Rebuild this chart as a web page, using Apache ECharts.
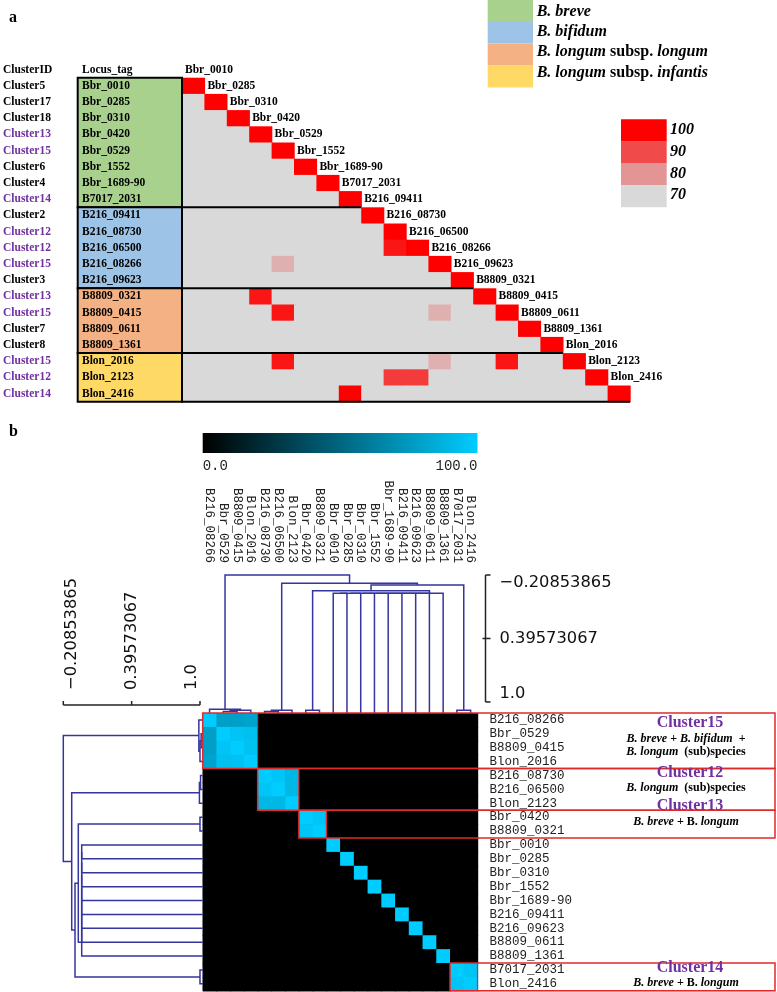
<!DOCTYPE html>
<html><head><meta charset="utf-8">
<script src="https://cdn.jsdelivr.net/npm/echarts@6/dist/echarts.min.js"></script>
<style>html,body{margin:0;padding:0;background:#fff}#c{width:777px;height:992px}</style>
</head><body><div id="c"></div>
<script>
// ================= DATA =================
// ---- Panel a : pairwise identity (lower triangle) ----
const locusTags = ['Bbr_0010','Bbr_0285','Bbr_0310','Bbr_0420','Bbr_0529','Bbr_1552','Bbr_1689-90','B7017_2031','B216_09411','B216_08730','B216_06500','B216_08266','B216_09623','B8809_0321','B8809_0415','B8809_0611','B8809_1361','Blon_2016','Blon_2123','Blon_2416'];
const clusterIds = ['Cluster5','Cluster17','Cluster18','Cluster13','Cluster15','Cluster6','Cluster4','Cluster14','Cluster2','Cluster12','Cluster12','Cluster15','Cluster3','Cluster13','Cluster15','Cluster7','Cluster8','Cluster15','Cluster12','Cluster14'];
const sharedClusters = ['Cluster12','Cluster13','Cluster14','Cluster15'];
const speciesNames = ['B. breve','B. bifidum','B. longum subsp. longum','B. longum subsp. infantis'];
const speciesRowCounts = [8,5,4,3];
const identityDiagonal = 100;
const identityBelowCutoff = 70;
// [row, col, % identity] for off-diagonal pairs above the cutoff
const identityHits = [[10,9,97],[11,4,76],[13,3,97],[14,4,97],[14,11,76],[17,4,97],[17,11,76],[17,14,97],[18,9,92],[18,10,92],[19,7,100]];
const identityTicks = [70,80,90,100];

// ---- Panel b : clustered similarity heatmap ----
const hmOrder = ['B216_08266','Bbr_0529','B8809_0415','Blon_2016','B216_08730','B216_06500','Blon_2123','Bbr_0420','B8809_0321','Bbr_0010','Bbr_0285','Bbr_0310','Bbr_1552','Bbr_1689-90','B216_09411','B216_09623','B8809_0611','B8809_1361','B7017_2031','Blon_2416'];
const hmDiagonal = 100;
const hmRange = [0, 100];
// [row, col, value] for non-zero off-diagonal cells
const hmCells = [[0,1,78],[0,2,78],[0,3,80],[1,0,78],[2,0,78],[3,0,80],
  [1,2,96],[1,3,94],[2,1,96],[2,3,95],[3,1,94],[3,2,95],
  [4,5,97],[5,4,97],[4,6,90],[5,6,90],[6,4,90],[6,5,90],
  [7,8,96],[8,7,96],[18,19,96],[19,18,96]];
const treeTicks = [-0.20853865, 0.39573067, 1.0];
const treeTickLabels = ['\u22120.20853865','0.39573067','1.0'];
// merges: [childA, childB, level]; leaves are 0..19, merged nodes get ids 20, 21, ...
const colTreeLeafLevel = 1.105;
const colTreeMerges = [[1,2,1.09],[20,3,1.08],[21,0,1.07],[4,5,1.09],[23,6,1.08],[7,8,1.08],[18,19,1.08],
  [9,10,-0.0344],[27,11,-0.0344],[28,12,-0.0344],[29,13,-0.0344],[30,14,-0.0344],[31,15,-0.0344],[32,16,-0.0344],[33,17,-0.0344],
  [25,34,-0.059],[35,26,-0.1134],[24,36,-0.1295],[22,37,-0.20853865]];
const rowTreeLeafLevel = 1.024;
const rowTreeMerges = [[1,2,1.01],[20,3,1.0],[21,0,0.99],[4,5,1.005],[23,6,0.995],[7,8,1.0],[18,19,1.0],
  [9,10,-0.0458],[27,11,-0.0458],[28,12,-0.0458],[29,13,-0.0458],[30,14,-0.0458],[31,15,-0.0458],[32,16,-0.0458],[33,17,-0.0458],
  [25,34,-0.0759],[35,26,-0.105],[24,36,-0.1342],[22,37,-0.20853865]];
const clusterBoxes = [
  {name:'Cluster15', first:0, last:3, note:'{i|B. breve} + {i|B. bifidum}  +\n{i|B. longum}  (sub)species'},
  {name:'Cluster12', first:4, last:6, note:'{i|B. longum}  (sub)species'},
  {name:'Cluster13', first:7, last:8, note:'{i|B. breve} + B. {i|longum}'},
  {name:'Cluster14', first:18, last:19, note:'{i|B. breve} + B. {i|longum}'}
];

// ================= STYLE =================
const serif = '"Liberation Serif", "Times New Roman", serif';
const mono = '"Liberation Mono", "Courier New", monospace';
const sans = '"DejaVu Sans", Verdana, sans-serif';
const purple = '#7030a0';
const speciesColors = ['#a9d18e','#9dc3e6','#f4b183','#ffd966'];
const identityColors = ['#d9d9d9','#e39595','#f04a4a','#ff0000'];
const hmColors = ['#000000','#00ccff'];
const treeColor = '#35359e';
const boxColor = '#e02a2a';

// ================= BUILD =================
const nA = locusTags.length, nB = hmOrder.length;
const hitMap = {};
identityHits.forEach(([r,c,v]) => { hitMap[r+'_'+c] = v; });
const triData = [];
for (let r = 0; r < nA; r++) for (let c = 0; c <= r; c++) {
  const v = r === c ? identityDiagonal : (hitMap[r+'_'+c] !== undefined ? hitMap[r+'_'+c] : identityBelowCutoff);
  triData.push([c, r, v]);
}
const groupStarts = [];
speciesRowCounts.reduce((acc, n) => { groupStarts.push(acc); return acc + n; }, 0);
const bounds = groupStarts.slice(1).concat([nA]);

const hmMap = {};
hmCells.forEach(([r,c,v]) => { hmMap[r+'_'+c] = v; });
const hmData = [];
for (let r = 0; r < nB; r++) for (let c = 0; c < nB; c++) {
  const v = r === c ? hmDiagonal : (hmMap[r+'_'+c] !== undefined ? hmMap[r+'_'+c] : hmRange[0]);
  hmData.push([c, r, v]);
}

function treeSegments(merges, leafLevel, n) {
  const pos = [], lev = [];
  for (let i = 0; i < n; i++) { pos.push(i); lev.push(leafLevel); }
  return merges.map(([a, b, h]) => {
    const seg = {pa: pos[a], la: lev[a], pb: pos[b], lb: lev[b], h: h};
    pos.push((pos[a] + pos[b]) / 2); lev.push(h);
    return seg;
  });
}
const colTree = treeSegments(colTreeMerges, colTreeLeafLevel, nB);
const rowTree = treeSegments(rowTreeMerges, rowTreeLeafLevel, nB);

function speciesRich(name) {
  const p = name.split(' subsp. ');
  return p.length > 1 ? '{i|' + p[0] + '}{n| subsp. }{i|' + p[1] + '}' : '{i|' + name + '}';
}
function identityColor(v) { return identityColors[identityTicks.indexOf(v)]; }

// heatmap cells drawn with a hair of overlap so no seams appear between neighbours
function cellRenderer(p, api) {
  const c = api.coord([api.value(0), api.value(1)]), s = api.size([1, 1]);
  return {type:'rect', shape:{x:c[0] - s[0]/2, y:c[1] - s[1]/2, width:s[0] + 0.7, height:s[1] + 0.7},
    style:{fill:api.visual('color'), stroke:null}};
}

const chart = echarts.init(document.getElementById('c'), null, {width: 777, height: 992});

const graphics = [];
graphics.push({type:'text', x:9, y:18, style:{text:'a', fontFamily:serif, fontWeight:'bold', fontSize:16, fill:'#000', verticalAlign:'middle'}});
graphics.push({type:'text', x:9, y:432, style:{text:'b', fontFamily:serif, fontWeight:'bold', fontSize:16, fill:'#000', verticalAlign:'middle'}});
graphics.push({type:'text', x:3, y:70, style:{text:'ClusterID', fontFamily:serif, fontWeight:'bold', fontSize:11.5, fill:'#000', verticalAlign:'middle'}});
graphics.push({type:'text', x:82, y:70, style:{text:'Locus_tag', fontFamily:serif, fontWeight:'bold', fontSize:11.5, fill:'#000', verticalAlign:'middle'}});
speciesNames.forEach((name, i) => {
  graphics.push({type:'rect', shape:{x:487.7, y:i*21.7, width:45.3, height:i === 3 ? 22.5 : 21.9}, style:{fill:speciesColors[i]}});
  graphics.push({type:'text', x:536.7, y:11.7 + i*20.3, style:{text:speciesRich(name), verticalAlign:'middle', fontFamily:serif, fontWeight:'bold', fontSize:16, fill:'#000',
    rich:{i:{fontFamily:serif, fontWeight:'bold', fontStyle:'italic', fontSize:16, fill:'#000'}, n:{fontFamily:serif, fontWeight:'bold', fontSize:16, fill:'#000'}}}});
});
identityTicks.slice().reverse().forEach((t, i) => {
  graphics.push({type:'rect', shape:{x:621, y:119.3 + i*21.9, width:45.7, height:22.2}, style:{fill:identityColor(t)}});
  graphics.push({type:'text', x:670, y:130.2 + i*21.7, style:{text:String(t), verticalAlign:'middle', fontFamily:serif, fontWeight:'bold', fontStyle:'italic', fontSize:16, fill:'#000'}});
});
// colour bar of panel b
graphics.push({type:'rect', shape:{x:202.7, y:433, width:274.8, height:20},
  style:{fill:new echarts.graphic.LinearGradient(0,0,1,0,[{offset:0,color:hmColors[0]},{offset:1,color:hmColors[1]}])}});
graphics.push({type:'text', x:202.7, y:466, style:{text:hmRange[0].toFixed(1), fontFamily:mono, fontSize:14, fill:'#222', verticalAlign:'middle', align:'left'}});
graphics.push({type:'text', x:477.5, y:466, style:{text:hmRange[1].toFixed(1), fontFamily:mono, fontSize:14, fill:'#222', verticalAlign:'middle', align:'right'}});

const hidden = {axisLine:{show:false}, axisTick:{show:false}, splitLine:{show:false}};
const boxTextDy = [[10,32.5],[4.5,19.4],[-4.5,11.7],[5,20]];

const option = {
  animation: false,
  backgroundColor: '#fff',
  graphic: {elements: graphics},
  grid: [
    {left:182, top:77.7, width:448, height:324, outerBoundsMode:'none'},
    {left:77.7, top:77.7, width:104.3, height:324, outerBoundsMode:'none'},
    {left:202.7, top:713, width:274.8, height:277.8, outerBoundsMode:'none', show:true, backgroundColor:hmColors[0], borderWidth:0},
    {left:202.7, top:575, width:274.8, height:138, outerBoundsMode:'none'},
    {left:63.3, top:713, width:139.4, height:277.8, outerBoundsMode:'none'}
  ],
  xAxis: [
    {gridIndex:0, type:'category', data:locusTags, show:false},
    {gridIndex:1, type:'category', data:['Locus_tag'], show:false},
    Object.assign({gridIndex:2, type:'category', data:hmOrder, position:'top',
      axisLabel:{interval:0, rotate:90, margin:150, fontFamily:mono, fontSize:12.5, color:'#222'}}, hidden),
    {gridIndex:3, type:'value', min:-0.5, max:nB - 0.5, show:false},
    {gridIndex:4, type:'value', min:treeTicks[0], max:rowTreeLeafLevel, show:false}
  ],
  yAxis: [
    {gridIndex:0, type:'category', data:locusTags, inverse:true, show:false},
    Object.assign({gridIndex:1, type:'category', data:locusTags, inverse:true,
      axisLabel:{interval:0, align:'left', margin:74.7, formatter:(v, i) => clusterIds[i],
        color:(v, i) => sharedClusters.indexOf(clusterIds[i]) >= 0 ? purple : '#000',
        fontFamily:serif, fontWeight:'bold', fontSize:11.5}}, hidden),
    Object.assign({gridIndex:2, type:'category', data:hmOrder, inverse:true, position:'right',
      axisLabel:{interval:0, margin:12, fontFamily:mono, fontSize:12.5, color:'#222'}}, hidden),
    {gridIndex:3, type:'value', min:treeTicks[0], max:colTreeLeafLevel, inverse:true, show:false},
    {gridIndex:4, type:'value', min:-0.5, max:nB - 0.5, inverse:true, show:false}
  ],
  visualMap: [
    {type:'continuous', seriesIndex:0, dimension:2, min:identityTicks[0], max:identityTicks[identityTicks.length-1], show:false, inRange:{color:identityColors}},
    {type:'continuous', seriesIndex:1, dimension:2, min:hmRange[0], max:hmRange[1], show:false, inRange:{color:hmColors}}
  ],
  series: [
    {type:'custom', xAxisIndex:0, yAxisIndex:0, z:2, data:triData, encode:{x:0, y:1}, renderItem:cellRenderer},
    {type:'custom', xAxisIndex:2, yAxisIndex:2, z:2, data:hmData, encode:{x:0, y:1}, renderItem:cellRenderer},
    // diagonal column labels of panel a
    {type:'custom', xAxisIndex:0, yAxisIndex:0, z:6, data:locusTags.map((_, k) => [k, k]),
      renderItem:(p, api) => {
        const k = p.dataIndex, s = api.size([1, 1]), c = api.coord([k, k]);
        return {type:'text', x:c[0] - s[0]/2 + 3, y:c[1] - s[1],
          style:{text:locusTags[k], fontFamily:serif, fontWeight:'bold', fontSize:11.5, fill:'#000', verticalAlign:'middle', align:'left'}};
      }},
    // species group separators across the triangle
    {type:'custom', xAxisIndex:0, yAxisIndex:0, z:6, data:bounds.map(b => [0, 0]),
      renderItem:(p, api) => {
        const r = bounds[p.dataIndex], s = api.size([1, 1]);
        const y = api.coord([0, r - 1])[1] + s[1]/2;
        const xL = api.coord([0, 0])[0] - s[0]/2;
        const xR = r < nA ? api.coord([r, 0])[0] - s[0]/2 : api.coord([nA - 1, 0])[0] + s[0]/2;
        return {type:'line', shape:{x1:xL - 1, y1:y, x2:xR, y2:y}, style:{stroke:'#000', lineWidth:2}};
      }},
    // species blocks with locus tags
    {type:'custom', xAxisIndex:1, yAxisIndex:1, z:6, data:groupStarts.map(g => [0, g]),
      renderItem:(p, api) => {
        const g = p.dataIndex, start = groupStarts[g], cnt = speciesRowCounts[g];
        const s = api.size([1, 1]), c = api.coord([0, start]);
        const x = c[0] - s[0]/2, y = c[1] - s[1]/2;
        const children = [{type:'rect', shape:{x:x, y:y, width:s[0], height:cnt * s[1]}, style:{fill:speciesColors[g], stroke:'#000', lineWidth:2}}];
        for (let r = start; r < start + cnt; r++) {
          children.push({type:'text', x:x + 4.3, y:api.coord([0, r])[1],
            style:{text:locusTags[r], fontFamily:serif, fontWeight:'bold', fontSize:11.5, fill:'#000', verticalAlign:'middle', align:'left'}});
        }
        return {type:'group', children:children};
      }},
    // cluster boxes of panel b
    {type:'custom', xAxisIndex:2, yAxisIndex:2, z:6, data:clusterBoxes.map(b => [b.first, b.first]),
      renderItem:(p, api) => {
        const i = p.dataIndex, b = clusterBoxes[i], s = api.size([1, 1]);
        const c0 = api.coord([b.first, b.first]), c1 = api.coord([b.last, b.last]);
        const x0 = c0[0] - s[0]/2, y0 = c0[1] - s[1]/2, xb = c1[0] + s[0]/2, y1 = c1[1] + s[1]/2;
        const xr = api.getWidth() - 2;
        return {type:'group', children:[
          {type:'rect', shape:{x:x0, y:y0, width:xr - x0, height:y1 - y0}, style:{fill:null, stroke:boxColor, lineWidth:1.5}},
          {type:'line', shape:{x1:xb, y1:y0, x2:xb, y2:y1}, style:{stroke:boxColor, lineWidth:1.2}},
          {type:'text', x:api.getWidth() - 87, y:y0 + boxTextDy[i][0],
            style:{text:b.name, fontFamily:serif, fontWeight:'bold', fontSize:16, fill:purple, align:'center', verticalAlign:'middle'}},
          {type:'text', x:api.getWidth() - 91, y:y0 + boxTextDy[i][1],
            style:{text:b.note, fontFamily:serif, fontWeight:'bold', fontSize:12, lineHeight:13, fill:'#000', align:'center', verticalAlign:'middle',
              rich:{i:{fontFamily:serif, fontWeight:'bold', fontStyle:'italic', fontSize:12, lineHeight:13, fill:'#000'}}}}
        ]};
      }},
    // column dendrogram
    {type:'custom', xAxisIndex:3, yAxisIndex:3, z:4, data:colTree.map(d => [d.pa, d.h]),
      renderItem:(p, api) => {
        const d = colTree[p.dataIndex];
        return {type:'polyline', shape:{points:[api.coord([d.pa, d.la]), api.coord([d.pa, d.h]), api.coord([d.pb, d.h]), api.coord([d.pb, d.lb])]},
          style:{stroke:treeColor, lineWidth:1.5, fill:null}};
      }},
    // column dendrogram scale
    {type:'custom', xAxisIndex:3, yAxisIndex:3, z:4, data:[[0, treeTicks[0]]],
      renderItem:(p, api) => {
        const cs = p.coordSys, x = cs.x + cs.width + 8;
        const ys = treeTicks.map(t => api.coord([0, t])[1]);
        const st = {stroke:'#222', lineWidth:1.5};
        const va = ['top', 'middle', 'bottom'];
        const ch = [
          {type:'line', shape:{x1:x, y1:ys[0], x2:x, y2:ys[2]}, style:st},
          {type:'line', shape:{x1:x, y1:ys[0], x2:x + 5, y2:ys[0]}, style:st},
          {type:'line', shape:{x1:x - 3, y1:ys[1], x2:x + 5, y2:ys[1]}, style:st},
          {type:'line', shape:{x1:x, y1:ys[2], x2:x + 5, y2:ys[2]}, style:st}
        ];
        treeTickLabels.forEach((t, i) => ch.push({type:'text', x:x + 14, y:ys[i],
          style:{text:t, fontFamily:sans, fontSize:16.3, fill:'#111', align:'left', verticalAlign:va[i]}}));
        return {type:'group', children:ch};
      }},
    // row dendrogram
    {type:'custom', xAxisIndex:4, yAxisIndex:4, z:4, data:rowTree.map(d => [d.h, d.pa]),
      renderItem:(p, api) => {
        const d = rowTree[p.dataIndex];
        return {type:'polyline', shape:{points:[api.coord([d.la, d.pa]), api.coord([d.h, d.pa]), api.coord([d.h, d.pb]), api.coord([d.lb, d.pb])]},
          style:{stroke:treeColor, lineWidth:1.5, fill:null}};
      }},
    // row dendrogram scale
    {type:'custom', xAxisIndex:4, yAxisIndex:4, z:4, data:[[treeTicks[0], 0]],
      renderItem:(p, api) => {
        const cs = p.coordSys, y = cs.y - 8;
        const xs = treeTicks.map(t => api.coord([t, 0])[0]);
        const st = {stroke:'#222', lineWidth:1.5};
        const va = ['top', 'middle', 'bottom'];
        const ch = [{type:'line', shape:{x1:xs[0], y1:y, x2:xs[2], y2:y}, style:st}];
        xs.forEach(x => ch.push({type:'line', shape:{x1:x, y1:y, x2:x, y2:y - 4}, style:st}));
        treeTickLabels.forEach((t, i) => ch.push({type:'text', x:xs[i], y:y - 15, rotation:Math.PI/2,
          style:{text:t, fontFamily:sans, fontSize:16.3, fill:'#111', align:'left', verticalAlign:va[i]}}));
        return {type:'group', children:ch};
      }}
  ]
};
chart.setOption(option);
</script>
</body></html>
